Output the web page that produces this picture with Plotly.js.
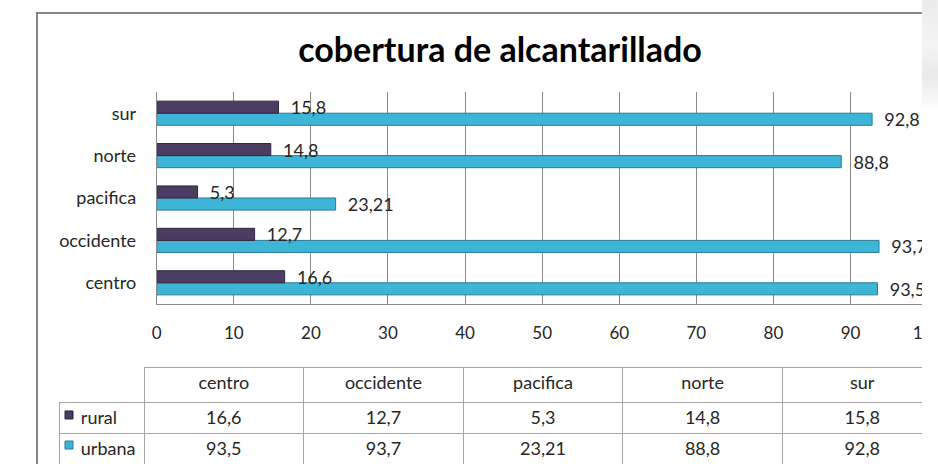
<!DOCTYPE html>
<html>
<head>
<meta charset="utf-8">
<script src="https://cdn.plot.ly/plotly-3.0.1.min.js"></script>
<style>
  html, body { margin: 0; padding: 0; background: #ffffff; width: 938px; height: 464px; overflow: hidden; }
  #frame { position: absolute; left: 36px; top: 12px; width: 884px; height: 460px; overflow: hidden;
           border-left: 2px solid #858585; border-top: 2px solid #858585; background: #ffffff; }
  #chart { position: absolute; left: 0; top: 0; width: 1000px; height: 460px; }
  #deco { position: absolute; left: 922px; top: 0; width: 16px; height: 110px;
          background: linear-gradient(180deg, #ececec 0%, #f4f4f4 40%, #e9e9e9 70%, #ffffff 100%); }
</style>
</head>
<body>
<div id="deco"></div>
<div id="frame"><div id="chart"></div></div>
<script>
// ---- data ----
const categories = ['centro', 'occidente', 'pacifica', 'norte', 'sur'];
const rural  = [16.6, 12.7, 5.3, 14.8, 15.8];
const urbana = [93.5, 93.7, 23.21, 88.8, 92.8];
const seriesNames = ['rural', 'urbana'];
const xTicks = [0, 10, 20, 30, 40, 50, 60, 70, 80, 90, 100];
const chartTitle = 'cobertura de alcantarillado';

// ---- styling ----
const ruralColor = '#4b3c61';
const urbanaColor = '#3db5d6';
const gridColor = '#8a8a8a';
const textColor = '#262626';
const fontFam = 'Lato, "Open Sans", sans-serif';
const fs = 18;

const fmt = v => String(v).replace('.', ',');
const pad = '\u00a0\u00a0';
const keyPad = '\u00a0\u00a0\u00a0';

const traces = [
  {
    type: 'bar', orientation: 'h', name: seriesNames[1],
    y: categories, x: urbana,
    text: urbana.map(v => pad + fmt(v)), textposition: 'outside',
    constraintext: 'none',
    textfont: { family: fontFam, size: fs, color: textColor },
    cliponaxis: false,
    marker: { color: urbanaColor, line: { color: '#2a7c93', width: 1 } },
    hoverinfo: 'skip'
  },
  {
    type: 'bar', orientation: 'h', name: seriesNames[0],
    y: categories, x: rural,
    text: rural.map(v => pad + fmt(v)), textposition: 'outside',
    constraintext: 'none',
    textfont: { family: fontFam, size: fs, color: textColor },
    cliponaxis: false,
    marker: { color: ruralColor, line: { color: '#33273f', width: 1 } },
    hoverinfo: 'skip'
  },
  {
    type: 'table',
    domain: { x: [0.021, 0.904], y: [0, 0.2326] },
    columnwidth: [85, 159.6, 159.6, 159.6, 159.6, 159.6],
    header: {
      values: [''].concat(categories),
      height: 35,
      align: 'center',
      fill: { color: 'rgba(0,0,0,0)' },
      line: { color: ['rgba(0,0,0,0)'].concat(categories.map(() => '#a6a6a6')), width: 1 },
      font: { family: fontFam, size: fs, color: textColor }
    },
    cells: {
      values: [
        [keyPad + seriesNames[0], keyPad + seriesNames[1]]
      ].concat(categories.map((c, i) => [fmt(rural[i]), fmt(urbana[i])])),
      height: 31,
      align: ['left', 'center', 'center', 'center', 'center', 'center'],
      fill: { color: 'rgba(0,0,0,0)' },
      line: { color: '#a6a6a6', width: 1 },
      font: { family: fontFam, size: fs, color: textColor }
    }
  }
];

const layout = {
  width: 1000, height: 460,
  margin: { l: 0, r: 0, t: 0, b: 0 },
  paper_bgcolor: '#ffffff', plot_bgcolor: '#ffffff',
  showlegend: false,
  separators: ',.',
  barmode: 'group', bargap: 0.43, bargroupgap: 0,
  title: {
    text: '<b>' + chartTitle + '</b>',
    x: 0.462, xanchor: 'center', y: 0.9217, yanchor: 'middle',
    font: { family: fontFam, size: 34, color: '#000000' }
  },
  xaxis: {
    domain: [0.1187, 0.8896], range: [0, 100],
    tickvals: xTicks, ticks: '', ticklabelstandoff: 14,
    showgrid: true, gridcolor: gridColor, gridwidth: 1,
    showline: true, linecolor: gridColor, linewidth: 1,
    zeroline: false,
    tickfont: { family: fontFam, size: 17, color: textColor },
    fixedrange: true
  },
  yaxis: {
    domain: [0.3696, 0.8304],
    type: 'category', categoryorder: 'array', categoryarray: categories,
    ticks: '', ticklabelstandoff: 16,
    showgrid: false, showline: true, linecolor: gridColor, linewidth: 1,
    tickfont: { family: fontFam, size: fs, color: textColor },
    fixedrange: true
  },
  shapes: [
    // legend keys in the data table
    { type: 'rect', xref: 'paper', yref: 'paper', x0: 0.027, x1: 0.035, y0: 0.1196, y1: 0.1370,
      fillcolor: ruralColor, line: { color: '#2a2036', width: 1 } },
    { type: 'rect', xref: 'paper', yref: 'paper', x0: 0.027, x1: 0.035, y0: 0.0543, y1: 0.0717,
      fillcolor: urbanaColor, line: { color: '#2a7c93', width: 1 } }
  ]
};

Plotly.newPlot('chart', traces, layout, { displayModeBar: false, staticPlot: true });
</script>
</body>
</html>
